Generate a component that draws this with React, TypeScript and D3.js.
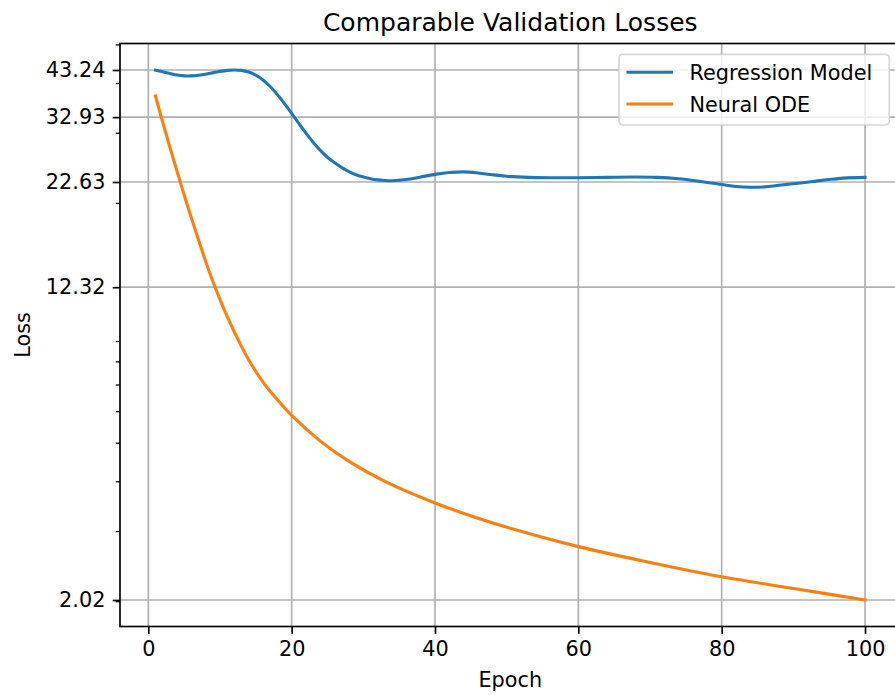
import React, { useRef, useEffect } from 'react'
import * as d3 from 'd3'

// values
const regEpochs = [1, 2, 3, 4, 5, 6, 7, 8, 9, 10, 11, 12, 13, 14, 15, 16, 17, 18, 19, 20, 21, 22, 23, 24, 25, 26, 27, 28, 29, 30, 31, 32, 33, 34, 36, 38, 40, 42, 44, 46, 48, 50, 53, 56, 60, 64, 68, 71, 74, 77, 80, 82, 84, 86, 88, 91, 94, 97, 100]
const regLoss = [43.2, 42.8, 42.4, 42.0, 41.8, 41.8, 41.95, 42.2, 42.55, 42.9, 43.15, 43.24, 43.15, 42.76, 41.98, 40.82, 39.3, 37.53, 35.6, 33.65, 31.77, 30.03, 28.48, 27.16, 26.12, 25.29, 24.6, 24.04, 23.6, 23.28, 23.06, 22.91, 22.83, 22.8, 22.95, 23.3, 23.65, 23.9, 24.0, 23.85, 23.6, 23.4, 23.25, 23.2, 23.2, 23.25, 23.3, 23.25, 23.05, 22.7, 22.3, 22.05, 21.95, 22.0, 22.2, 22.5, 22.85, 23.15, 23.25]

const odeEpochs = [1, 2, 3, 4, 5, 6, 7, 8, 9, 10, 11, 12, 14, 16, 18, 20, 24, 28, 33, 40, 46, 51, 60, 70, 80, 90, 100]
const odeLoss = [37.2, 32.0, 27.7, 24.1, 21.0, 18.4, 16.2, 14.3, 12.75, 11.47, 10.41, 9.52, 8.1, 7.12, 6.43, 5.87, 5.06, 4.5, 4.01, 3.54, 3.24, 3.04, 2.75, 2.51, 2.31, 2.16, 2.02]

const xTicks = [0, 20, 40, 60, 80, 100]
const yTicks = [2.02, 12.32, 22.63, 32.93, 43.24]
const yMinorTicks = [2, 3, 4, 5, 6, 7, 8, 9, 20, 30, 40, 50]

const seriesNames = ['Regression Model', 'Neural ODE']
const colors = ['#1f77b4', '#ff7f0e']

const W = 895
const H = 695
const FONT = 'DejaVu Sans, sans-serif'

const App = () => {
  const svgRef = useRef()

  useEffect(() => {
    const svg = d3.select(svgRef.current)
    svg.selectAll('*').remove()

    const margin = { left: 120, top: 43.5, right: 900.5, bottom: 626.5 }
    const fs = 20.8
    const tickLen = 7.3

    const series = [
      regEpochs.map((e, i) => ({ x: e, y: regLoss[i] })),
      odeEpochs.map((e, i) => ({ x: e, y: odeLoss[i] }))
    ]
    const all = series.flat()

    // matplotlib style 5% margins
    const [xmin, xmax] = d3.extent(all, d => d.x)
    const xpad = (xmax - xmin) * 0.05
    const x = d3
      .scaleLinear()
      .domain([xmin - xpad, xmax + xpad])
      .range([margin.left, margin.right])

    const lo = Math.log10(d3.min(all, d => d.y))
    const hi = Math.log10(d3.max(all, d => d.y))
    const ypad = (hi - lo) * 0.05
    const y = d3
      .scaleLog()
      .domain([10 ** (lo - ypad), 10 ** (hi + ypad)])
      .range([margin.bottom, margin.top])

    svg.append('rect').attr('width', W).attr('height', H).attr('fill', 'white')

    // grid
    const grid = svg.append('g').attr('stroke', '#b0b0b0').attr('stroke-width', 1.67)
    grid
      .selectAll('.gx')
      .data(xTicks)
      .join('line')
      .attr('x1', d => x(d))
      .attr('x2', d => x(d))
      .attr('y1', margin.top)
      .attr('y2', margin.bottom)
    grid
      .selectAll('.gy')
      .data(yTicks)
      .join('line')
      .attr('y1', d => y(d))
      .attr('y2', d => y(d))
      .attr('x1', margin.left)
      .attr('x2', margin.right)

    // lines
    const line = d3
      .line()
      .x(d => x(d.x))
      .y(d => y(d.y))
      .curve(d3.curveCatmullRom.alpha(0.5))

    series.forEach((s, i) => {
      svg
        .append('path')
        .attr('d', line(s))
        .attr('fill', 'none')
        .attr('stroke', colors[i])
        .attr('stroke-width', 3.1)
        .attr('stroke-linejoin', 'round')
        .attr('stroke-linecap', 'square')
    })

    // axes
    const xAxis = g =>
      g
        .attr('transform', `translate(0,${margin.bottom})`)
        .call(
          d3
            .axisBottom(x)
            .tickValues(xTicks)
            .tickFormat(d3.format('d'))
            .tickSize(tickLen)
            .tickPadding(7.3)
        )
        .call(g => g.select('.domain').remove())

    const yAxis = g =>
      g
        .attr('transform', `translate(${margin.left},0)`)
        .call(
          d3
            .axisLeft(y)
            .tickValues(yTicks)
            .tickFormat(d => d.toFixed(2))
            .tickSize(tickLen)
            .tickPadding(7.3)
        )
        .call(g => g.select('.domain').remove())

    const styleAxis = g => {
      g.attr('font-family', FONT).attr('font-size', fs)
      g.selectAll('line').attr('stroke', 'black').attr('stroke-width', 1.67)
      g.selectAll('text').attr('fill', 'black')
    }

    svg.append('g').call(xAxis).call(styleAxis)
    svg.append('g').call(yAxis).call(styleAxis)

    svg
      .append('g')
      .selectAll('line')
      .data(yMinorTicks)
      .join('line')
      .attr('x1', margin.left - 4.2)
      .attr('x2', margin.left)
      .attr('y1', d => y(d))
      .attr('y2', d => y(d))
      .attr('stroke', 'black')
      .attr('stroke-width', 1.25)

    // spines
    svg
      .append('rect')
      .attr('x', margin.left)
      .attr('y', margin.top)
      .attr('width', margin.right - margin.left)
      .attr('height', margin.bottom - margin.top)
      .attr('fill', 'none')
      .attr('stroke', 'black')
      .attr('stroke-width', 1.67)

    // labels
    svg
      .append('text')
      .attr('x', (margin.left + margin.right) / 2)
      .attr('y', 31)
      .attr('text-anchor', 'middle')
      .attr('font-family', FONT)
      .attr('font-size', 25)
      .text('Comparable Validation Losses')

    svg
      .append('text')
      .attr('x', (margin.left + margin.right) / 2)
      .attr('y', 687)
      .attr('text-anchor', 'middle')
      .attr('font-family', FONT)
      .attr('font-size', fs)
      .text('Epoch')

    svg
      .append('text')
      .attr('transform', `translate(30,${(margin.top + margin.bottom) / 2}) rotate(-90)`)
      .attr('text-anchor', 'middle')
      .attr('font-family', FONT)
      .attr('font-size', fs)
      .text('Loss')

    // legend
    const legend = svg.append('g')
    legend
      .append('rect')
      .attr('x', 619)
      .attr('y', 54.3)
      .attr('width', 270.3)
      .attr('height', 70.7)
      .attr('rx', 4)
      .attr('fill', 'white')
      .attr('fill-opacity', 0.8)
      .attr('stroke', '#cccccc')
      .attr('stroke-opacity', 0.8)
      .attr('stroke-width', 1.67)

    seriesNames.forEach((name, i) => {
      const cy = 72.3 + i * 31.7
      legend
        .append('line')
        .attr('x1', 628)
        .attr('x2', 671.5)
        .attr('y1', cy)
        .attr('y2', cy)
        .attr('stroke', colors[i])
        .attr('stroke-width', 3.1)
        .attr('stroke-linecap', 'square')
      legend
        .append('text')
        .attr('x', 689.5)
        .attr('y', cy + 7.7)
        .attr('font-family', FONT)
        .attr('font-size', fs)
        .text(name)
    })
  }, [])

  return (
    <svg
      ref={svgRef}
      viewBox={`0,0,${W},${H}`}
      width={W}
      height={H}
      style={{ position: 'absolute', left: 0, top: 0, display: 'block' }}
    />
  )
}

export default App
